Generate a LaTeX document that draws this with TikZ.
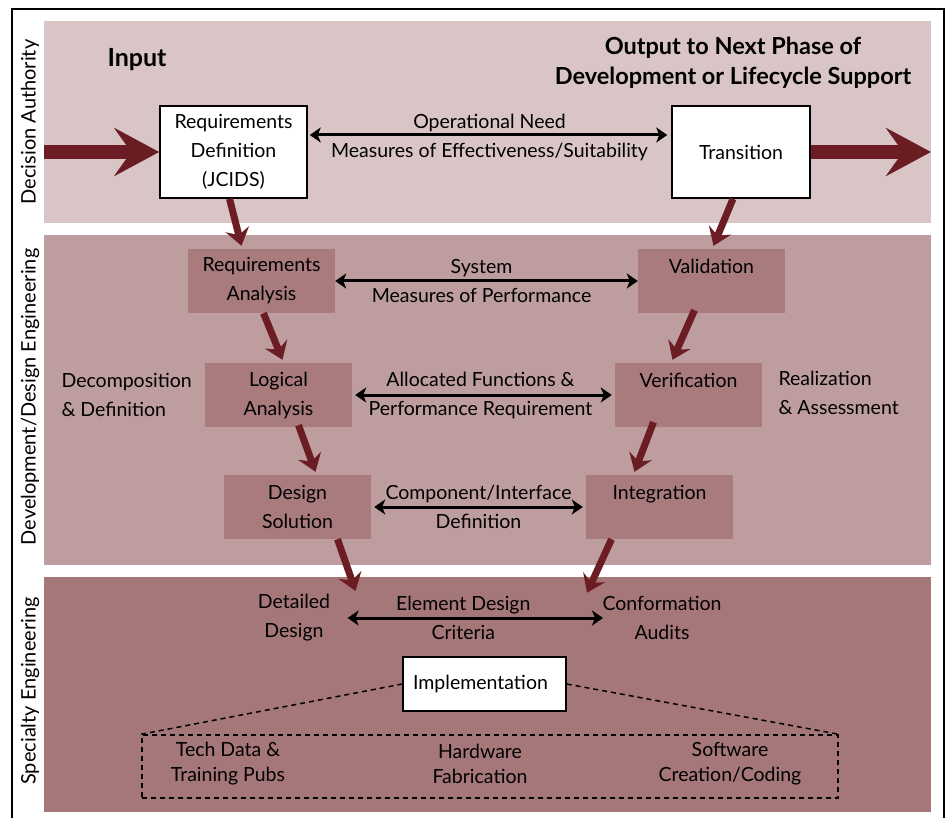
\documentclass[tikz,border=0pt]{standalone}
\usepackage{fontspec}
\setmainfont{Lato}
\usetikzlibrary{arrows.meta, positioning}

\definecolor{bandA}{RGB}{217,197,198}
\definecolor{bandB}{RGB}{190,157,159}
\definecolor{bandC}{RGB}{166,119,121}
\definecolor{stepfill}{RGB}{169,123,125}
\definecolor{maroon}{RGB}{108,29,36}

\tikzset{
  whitebox/.style={draw, line width=1.5pt, fill=white, align=center, inner sep=0pt},
  vbox/.style={fill=stepfill, align=center, minimum width=147pt, minimum height=64pt, inner sep=0pt},
  flow/.style={draw=maroon, line width=7pt, -{Stealth[length=17pt,width=24pt,inset=6pt]}},
  bigflow/.style={draw=maroon, line width=14pt, -{Stealth[length=45pt,width=48pt,inset=17pt]}},
  link/.style={line width=3pt, {Stealth[length=11pt,width=15pt,inset=3pt]}-{Stealth[length=11pt,width=15pt,inset=3pt]}},
  lbl/.style={align=center},
  phase/.style={rotate=90, font=\fontsize{20}{24}\selectfont},
  head/.style={font=\bfseries\fontsize{23.5}{30}\selectfont, align=center}
}

\begin{document}
\begin{tikzpicture}[x=1pt, y=-1pt, font=\fontsize{19.5}{29}\selectfont]
\useasboundingbox (0,0) rectangle (948,818);
\draw[line width=1.5pt] (12,9) rectangle (944,840);

% bands
\fill[bandA] (44,21) rectangle (931,223);
\fill[bandB] (44,235) rectangle (931,565);
\fill[bandC] (44,577) rectangle (931,812);

\node[phase] (da) at (30,122) {Decision Authority};
\node[phase] (dd) at (30,397) {Development/Design Engineering};
\node[phase] (se) at (30,691) {Specialty Engineering};

% decision authority
\node[head, font=\bfseries\fontsize{25}{30}\selectfont] (inp) at (137,60) {Input};
\node[head] (outp) at (733,63) {Output to Next Phase of\\Development or Lifecycle Support};
\node[whitebox, minimum width=147pt, minimum height=92pt] (reqdef) at (233.5,152) {Requirements\\Definition\\(JCIDS)};
\node[whitebox, minimum width=138pt, minimum height=92pt] (trans) at (741,152) {Transition};
\coordinate (src) at (44,152);
\coordinate (dst) at (931,152);

\draw[bigflow] (src) -- (reqdef.west);
\draw[bigflow] (trans.east) -- (dst);
\draw[link, shorten <=2pt, shorten >=4pt] ([yshift=17pt]reqdef.east) -- ([yshift=17pt]trans.west)
  node[lbl, midway, yshift=-2pt] {Operational Need\\Measures of Effectiveness/Suitability};

% development / design engineering
\node[vbox] (reqan) at (261.5,281) {Requirements\\Analysis};
\node[vbox] (valid) at (711.5,281) {Validation\\\mbox{}};
\node[vbox] (logan) at (278.5,395) {Logical\\Analysis};
\node[vbox] (verif) at (688.5,395) {Verification\\\mbox{}};
\node[vbox] (dsol) at (297.5,507) {Design\\Solution};
\node[vbox] (integ) at (659.5,507) {Integration\\\mbox{}};

\node[lbl, align=left, anchor=west] (decomp) at (58,395) {Decomposition\\\& Definition};
\node[lbl, align=left, anchor=west] (realiz) at (775,393) {Realization\\\& Assessment};

\draw[link] (reqan.east) -- (valid.west)
  node[lbl, midway, xshift=-5pt] {System\\Measures of Performance};
\draw[link, shorten <=3pt, shorten >=3pt] (logan.east) -- (verif.west)
  node[lbl, midway, xshift=-3pt] {Allocated Functions \&\\Performance Requirement};
\draw[link, shorten <=3pt, shorten >=3pt] (dsol.east) -- (integ.west)
  node[lbl, midway] {Component/Interface\\Definition};

% specialty engineering
\node[lbl] (detdes) at (294,618) {Detailed\\Design};
\node[lbl] (confaud) at (662,618) {Conformation\\Audits};
\draw[link, shorten <=14pt, shorten >=-4pt] (detdes.east) -- (confaud.west)
  node[lbl, midway, xshift=-3pt] {Element Design\\Criteria};

\node[whitebox, minimum width=163pt, minimum height=54pt] (impl) at (484.5,684) {Implementation\hspace{8pt}};
\node[draw, line width=1.5pt, dash pattern=on 5pt off 4pt, minimum width=696pt, minimum height=63pt] (subs) at (490,766.5) {};
\node[lbl, font=\fontsize{19.5}{25}\selectfont] (techd) at (228,763.5) {Tech Data \&\\Training Pubs};
\node[lbl, font=\fontsize{19.5}{25}\selectfont] (hardw) at (480,763.5) {Hardware\\Fabrication};
\node[lbl, font=\fontsize{19.5}{25}\selectfont] (softw) at (730,763.5) {Software\\Creation/Coding};
\draw[line width=1.5pt, dash pattern=on 5pt off 4pt] (impl.west) -- (subs.north west);
\draw[line width=1.5pt, dash pattern=on 5pt off 4pt] (impl.east) -- (subs.north east);

% maroon flow arrows
\draw[flow] ([xshift=-4pt]reqdef.south) -- ([xshift=-20pt,yshift=3pt]reqan.north);
\draw[flow] ([xshift=-8pt]trans.south) -- ([xshift=2pt,yshift=3pt]valid.north);
\draw[flow] ([xshift=2pt]reqan.south) -- ([xshift=4pt,yshift=3pt]logan.north);
\draw[flow] ([xshift=-17pt,yshift=3pt]valid.south) -- ([xshift=-16pt,yshift=3pt]verif.north);
\draw[flow] ([xshift=20pt,yshift=2pt]logan.south) -- ([xshift=18pt,yshift=3pt]dsol.north);
\draw[flow] ([xshift=-35pt,yshift=5pt]verif.south) -- ([xshift=-25pt,yshift=3pt]integ.north);
\draw[flow] ([xshift=40pt]dsol.south) -- ([xshift=22pt]detdes.north east);
\draw[flow] ([xshift=-48pt]integ.south) -- ([xshift=-12pt]confaud.north west);
\end{tikzpicture}
\end{document}
